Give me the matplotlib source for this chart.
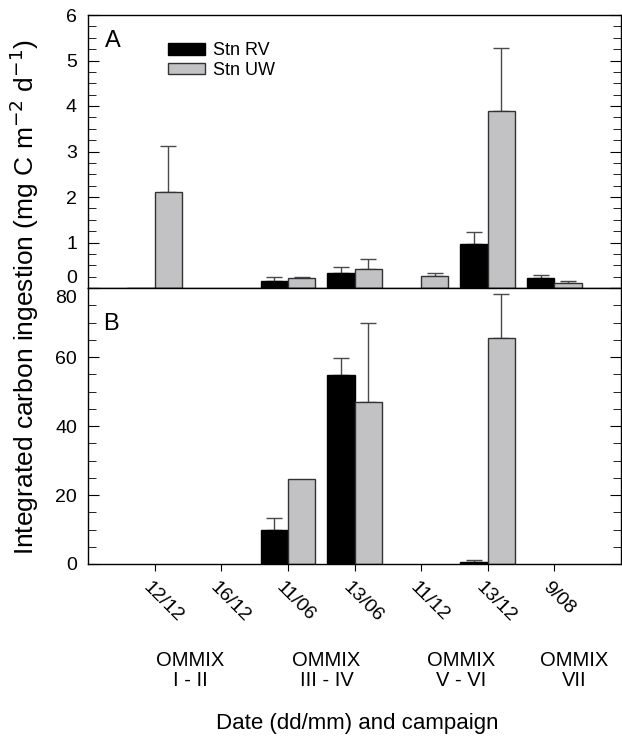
#!/usr/bin/env python3
import matplotlib
matplotlib.use("Agg")
import matplotlib.pyplot as plt
import matplotlib.transforms as mtransforms
from matplotlib.patches import Patch
import numpy as np

plt.rcParams['font.family'] = ['Liberation Sans', 'DejaVu Sans']

dates = ["12/12", "16/12", "11/06", "13/06", "11/12", "13/12", "9/08"]
campaigns = ["OMMIX\nI - II", "OMMIX\nIII - IV", "OMMIX\nV - VI", "OMMIX\nVII"]
campaign_pos = [1.53, 3.58, 5.6, 7.3]

# panel A
rv_a = [0.01, np.nan, 0.15, 0.34, np.nan, 0.96, 0.21]
rv_a_err = [0.0, 0.0, 0.10, 0.13, 0.0, 0.26, 0.08]
uw_a = [2.11, np.nan, 0.21, 0.42, 0.26, 3.89, 0.12]
uw_a_err = [1.02, 0.0, 0.04, 0.21, 0.08, 1.39, 0.04]

# panel B
rv_b = [np.nan, np.nan, 10.0, 54.7, np.nan, 0.7, np.nan]
rv_b_err = [0.0, 0.0, 3.4, 5.1, 0.0, 0.5, 0.0]
uw_b = [np.nan, np.nan, 24.5, 46.9, np.nan, 65.4, np.nan]
uw_b_err = [0.0, 0.0, 0.0, 23.0, 0.0, 12.9, 0.0]

W, H = 622, 738
fig = plt.figure(figsize=(W / 100, H / 100), dpi=100)
left, right = 88 / W, 621 / W
ax_a = fig.add_axes([left, 1 - 288 / H, right - left, (288 - 15) / H])
ax_b = fig.add_axes([left, 1 - 564 / H, right - left, (564 - 288) / H])

x = np.arange(1, len(dates) + 1)
bw = 0.41
gray = "#c2c2c4"
ecol = "#4a4a4a"


def draw(ax, rv, rv_err, uw, uw_err):
    ax.bar(x - bw / 2, rv, bw, color="black", edgecolor="black", linewidth=1, zorder=2)
    ax.bar(x + bw / 2, uw, bw, color=gray, edgecolor="#333333", linewidth=1, zorder=2)
    rv = np.array(rv); uw = np.array(uw)
    rv_err = np.array(rv_err); uw_err = np.array(uw_err)
    m = (~np.isnan(rv)) & (rv_err > 0)
    ax.errorbar(x[m] - bw / 2, rv[m], yerr=[np.zeros(m.sum()), rv_err[m]], fmt="none",
                ecolor=ecol, elinewidth=1, capsize=6, capthick=1, zorder=1)
    m = (~np.isnan(uw)) & (uw_err > 0)
    ax.errorbar(x[m] + bw / 2, uw[m], yerr=[np.zeros(m.sum()), uw_err[m]], fmt="none",
                ecolor=ecol, elinewidth=1, capsize=6, capthick=1, zorder=1)
    ax.set_xlim(0, 8)
    ax.set_xticks(x)
    ax.tick_params(axis="y", which="both", direction="in", right=True, labelsize=14, pad=8)
    ax.tick_params(axis="y", which="major", length=8)
    ax.tick_params(axis="y", which="minor", length=6)
    ax.tick_params(axis="x", direction="out", length=5, labelsize=14, pad=6)
    for s in ax.spines.values():
        s.set_linewidth(1)


draw(ax_a, rv_a, rv_a_err, uw_a, uw_a_err)
draw(ax_b, rv_b, rv_b_err, uw_b, uw_b_err)

ax_a.set_ylim(0, 6)
ax_a.set_yticks(range(0, 7))
ax_a.set_yticks(np.arange(0, 6.01, 0.25), minor=True)
ax_a.set_xticklabels([])
ax_b.set_ylim(0, 80)
ax_b.set_yticks(range(0, 81, 20))
ax_b.set_yticks(range(0, 81, 5), minor=True)
ax_b.set_xticklabels(dates, rotation=-45, ha="left", va="top", rotation_mode="anchor")
for lab in ax_b.get_xticklabels():
    lab.set_transform(lab.get_transform() + mtransforms.ScaledTranslation(-2 / 72, 0, fig.dpi_scale_trans))

# shift the touching 0 / 80 labels apart
fig.canvas.draw()
lab0 = ax_a.get_yticklabels()[0]
lab0.set_transform(lab0.get_transform() + mtransforms.ScaledTranslation(0, 8 / 72, fig.dpi_scale_trans))
lab80 = ax_b.get_yticklabels()[-1]
lab80.set_transform(lab80.get_transform() + mtransforms.ScaledTranslation(0, -6 / 72, fig.dpi_scale_trans))

ax_a.text(0.032, 0.945, "A", transform=ax_a.transAxes, fontsize=17, va="top")
ax_b.text(0.028, 0.91, "B", transform=ax_b.transAxes, fontsize=17, va="top")

handles = [Patch(facecolor="black", edgecolor="black"), Patch(facecolor=gray, edgecolor="#333333")]
ax_a.legend(handles, ["Stn RV", "Stn UW"], loc="upper left", bbox_to_anchor=(0.150, 0.90),
            frameon=False, fontsize=13, handlelength=2.05, handleheight=0.6,
            labelspacing=0.15, handletextpad=0.45, borderaxespad=0, borderpad=0)

for lab, p in zip(campaigns, campaign_pos):
    ax_b.text(p, -0.385, lab, transform=ax_b.get_xaxis_transform(), ha="center", va="center",
              fontsize=14.5, linespacing=1.05)

fig.text(357 / W, 1 - 723 / H, "Date (dd/mm) and campaign", ha="center", va="center", fontsize=16)
fig.text(24 / W, 1 - 297 / H, "Integrated carbon ingestion (mg C m$^{-2}$ d$^{-1}$)",
         rotation=90, ha="center", va="center", fontsize=19)

fig.savefig("out.png", dpi=100)
